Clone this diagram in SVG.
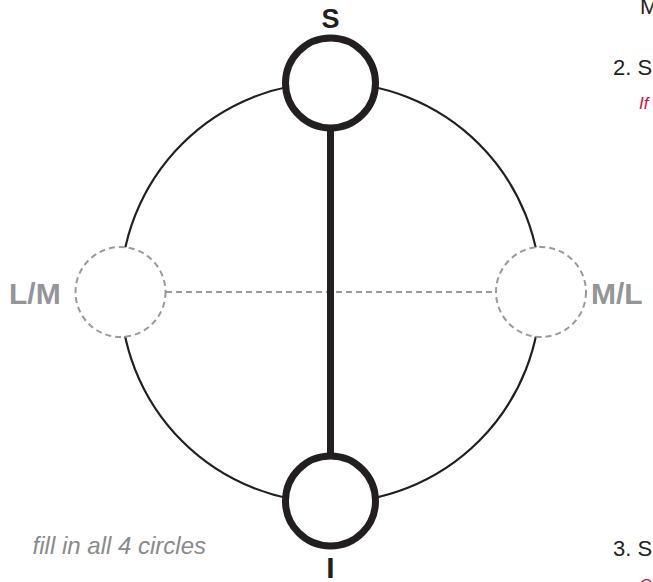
<svg xmlns="http://www.w3.org/2000/svg" width="653" height="582" viewBox="0 0 653 582">
<style>
.ring{fill:none;stroke:#231f20;stroke-width:2.2}
.node{fill:#fff;stroke:#231f20;stroke-width:7}
.dnode{fill:#fff;stroke:#9a9a9a;stroke-width:2;stroke-dasharray:6 4}
.lbl{font-family:"Liberation Sans",Arial,sans-serif;font-weight:bold;fill:#231f20;text-anchor:middle}
.glbl{font-family:"Liberation Sans",Arial,sans-serif;font-weight:bold;fill:#939598;font-size:30px}
.side{font-family:"Liberation Sans",Arial,sans-serif;fill:#231f20;font-size:22px}
.red{font-family:"Liberation Sans",Arial,sans-serif;font-style:italic;fill:#d0103a;font-size:17px}
.note{font-family:"Liberation Sans",Arial,sans-serif;font-style:italic;fill:#8a8a8a;font-size:24px;text-anchor:end}
</style>
<rect width="653" height="582" fill="#fff"/>
<g id="connectors">
<circle class="ring" cx="330.5" cy="292.5" r="210"/>
<line x1="166" y1="292" x2="496" y2="292" stroke="#9a9a9a" stroke-width="2" stroke-dasharray="6 4"/>
<line x1="330.5" y1="125" x2="330.5" y2="458" stroke="#231f20" stroke-width="7"/>
</g>
<g id="node-S">
<circle class="node" cx="330.5" cy="83" r="45"/>
<text class="lbl" x="330.5" y="28" font-size="27">S</text>
</g>
<g id="node-I">
<circle class="node" cx="330.5" cy="501" r="45"/>
<text class="lbl" x="330.5" y="578" font-size="30">I</text>
</g>
<g id="node-LM">
<circle class="dnode" cx="120.5" cy="292" r="45"/>
<text class="glbl" x="9" y="304">L/M</text>
</g>
<g id="node-ML">
<circle class="dnode" cx="541" cy="292" r="45"/>
<text class="glbl" x="591" y="304">M/L</text>
</g>
<g id="notes">
<text class="note" x="206" y="554">fill in all 4 circles</text>
<text class="side" x="640" y="14">M</text>
<text class="side" x="613" y="75">2. S</text>
<text class="red" x="639" y="109">If</text>
<text class="side" x="613" y="556">3. S</text>
<text class="red" x="639" y="591">C</text>
</g>
</svg>
